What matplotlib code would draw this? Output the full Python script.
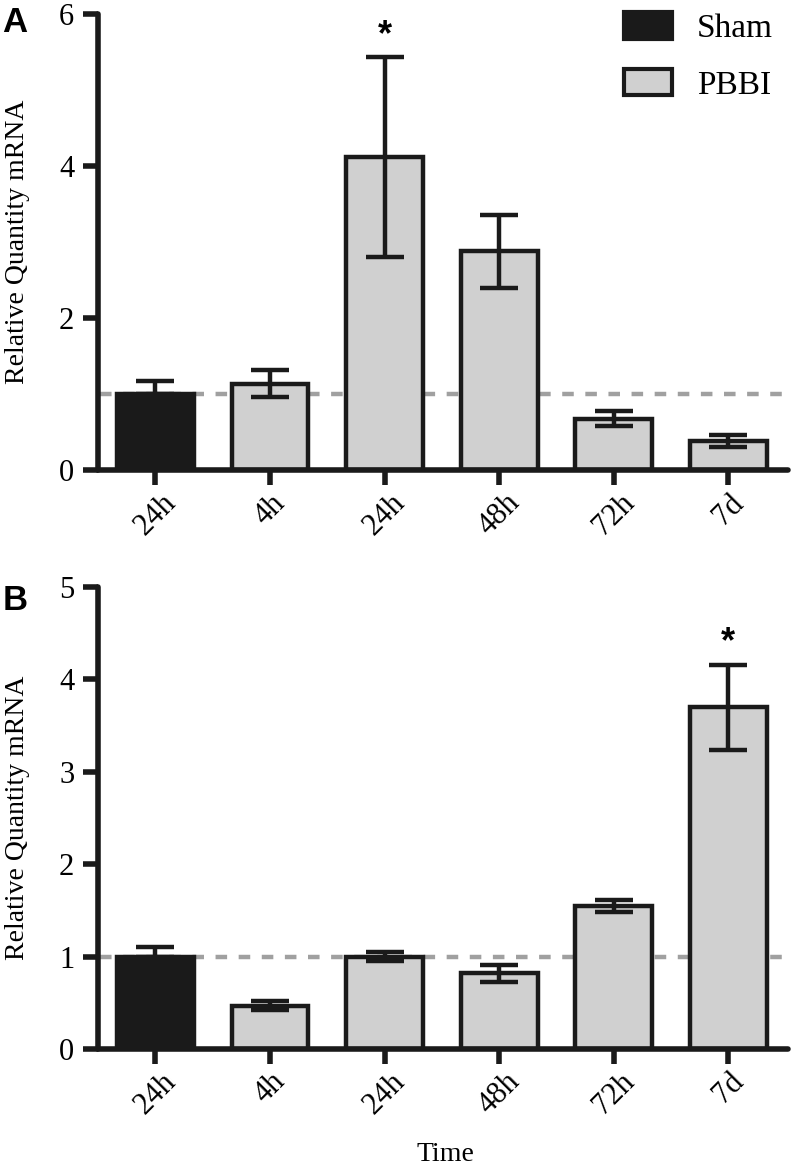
import matplotlib
matplotlib.use("Agg")
import matplotlib.pyplot as plt
from matplotlib.patches import Patch
import numpy as np

categories = ["24h", "4h", "24h", "48h", "72h", "7d"]
groups = ["Sham", "PBBI", "PBBI", "PBBI", "PBBI", "PBBI"]

a_values = [1.00, 1.14, 4.12, 2.88, 0.68, 0.39]
a_errors = [0.17, 0.18, 1.31, 0.48, 0.10, 0.08]
a_star = [False, False, True, False, False, False]

b_values = [1.00, 0.47, 1.00, 0.82, 1.55, 3.70]
b_errors = [0.10, 0.05, 0.05, 0.09, 0.065, 0.46]
b_star = [False, False, False, False, False, True]

a_ticks = [0, 2, 4, 6]
b_ticks = [0, 1, 2, 3, 4, 5]

colors = {"Sham": "#1a1a1a", "PBBI": "#d0d0d0"}
edge = "#1a1a1a"
serif = ["Liberation Serif", "DejaVu Serif"]
sans = ["Liberation Sans", "DejaVu Sans"]

plt.rcParams["font.family"] = serif

fig = plt.figure(figsize=(7.92, 11.68), dpi=100)
axA = fig.add_axes([0.1237, 0.5972, 0.995 - 0.1237, 0.988 - 0.5972])
axB = fig.add_axes([0.1237, 0.1019, 0.995 - 0.1237, 0.4974 - 0.1019])


def draw(ax, values, errors, stars, ticks, ymax):
    x = np.arange(len(values))
    ax.hlines(1.0, -0.48, len(values) - 0.52, colors="#a0a0a0", lw=3.2,
              linestyles=(0, (2.6, 2.6)), zorder=1)
    ax.bar(x, values, width=0.67, color=[colors[g] for g in groups],
           edgecolor=edge, linewidth=3.2, zorder=2)
    for xi, v, e, g in zip(x, values, errors, groups):
        if g == "Sham":
            ax.errorbar(xi, v, yerr=[[0], [e]], fmt="none", ecolor=edge,
                        elinewidth=3.2, capsize=14, capthick=3.2, zorder=3)
        else:
            ax.errorbar(xi, v, yerr=e, fmt="none", ecolor=edge,
                        elinewidth=3.2, capsize=14, capthick=3.2, zorder=3)
    for xi, v, e, s in zip(x, values, errors, stars):
        if s:
            ax.annotate("*", (xi, v + e), xytext=(0, 3),
                        textcoords="offset points", ha="center", va="bottom",
                        fontsize=26, fontweight="bold", family=sans)
    ax.set_xlim(-0.5, 5.52)
    ax.set_ylim(0, ymax)
    ax.set_yticks(ticks)
    ax.set_yticklabels([str(t) for t in ticks], fontsize=22)
    ax.set_xticks(x)
    ax.set_xticklabels(categories, rotation=45, ha="center", va="top",
                       fontsize=22)
    for s in ["top", "right"]:
        ax.spines[s].set_visible(False)
    for s in ["left", "bottom"]:
        ax.spines[s].set_linewidth(4)
        ax.spines[s].set_color(edge)
        ax.spines[s].set_capstyle("round")
    ax.tick_params(axis="both", length=11, width=4, color=edge, pad=6)
    ax.tick_params(axis="x", pad=2)
    ax.set_ylabel("Relative Quantity mRNA", fontsize=20, labelpad=8)


draw(axA, a_values, a_errors, a_star, a_ticks, 6)
draw(axB, b_values, b_errors, b_star, b_ticks, 5)

axA.yaxis.set_label_coords(-0.098, 0.5)
axB.yaxis.set_label_coords(-0.098, 0.5)

fig.text(445 / 792, 1 - 1161 / 1168, "Time", fontsize=20, ha="center",
         va="baseline")

handles = [Patch(facecolor=colors["Sham"], edgecolor=edge, linewidth=3, label="Sham"),
           Patch(facecolor=colors["PBBI"], edgecolor=edge, linewidth=3, label="PBBI")]
axA.legend(handles=handles, loc="upper right", bbox_to_anchor=(1.022, 1.07),
           frameon=False, fontsize=24, handlelength=1.45, handleheight=0.85,
           handletextpad=0.75, labelspacing=0.75)

fig.text(0.003, 0.981, "A", fontsize=25, fontweight="bold", family=sans,
         va="center")
fig.text(0.003, 0.486, "B", fontsize=25, fontweight="bold", family=sans,
         va="center")

fig.savefig("out.png", dpi=100)
